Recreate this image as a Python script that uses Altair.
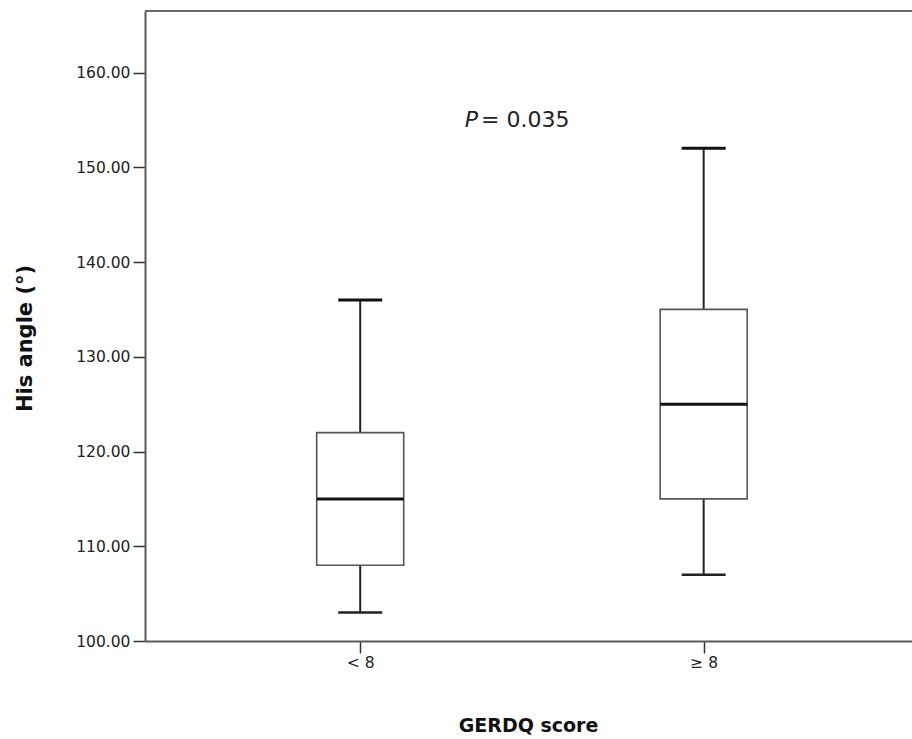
import altair as alt
import pandas as pd

# ---- data ----
groups = ["< 8", "≥ 8"]
positions = [0, 1]
whisker_low = [103, 107]
q1 = [108, 115]
median = [115, 125]
q3 = [122, 135]
whisker_high = [136, 152]
y_ticks = [100, 110, 120, 130, 140, 150, 160]
y_max = 166.5
p_label = "P"
p_value = "= 0.035"

df = pd.DataFrame({
    "group": groups,
    "pos": positions,
    "low": whisker_low,
    "q1": q1,
    "median": median,
    "q3": q3,
    "high": whisker_high,
})
ann = pd.DataFrame({"x1": [0.343], "x2": [0.352], "y": [154.3],
                    "t1": [p_label], "t2": [p_value]})
top = pd.DataFrame({"y": [y_max]})

FONT = "DejaVu Sans"
W, H = 767, 630

xscale = alt.Scale(domain=[-0.612, 1.592], nice=False, zero=False)
yscale = alt.Scale(domain=[100, y_max], nice=False, zero=False)

label_expr = f"datum.value == 0 ? '{groups[0]}' : '{groups[1]}'"

x_axis = alt.Axis(values=positions, labelExpr=label_expr, grid=False,
                  domainColor="#5a5a5a", domainWidth=2, tickColor="#333",
                  tickWidth=1.5, tickSize=12, labelPadding=2,
                  labelFont=FONT, labelFontSize=15.5, labelColor="#222",
                  titleFont=FONT, titleFontSize=19, titleFontWeight="bold",
                  titleColor="#111", titleX=383, titleY=90,
                  titleBaseline="alphabetic")
y_axis = alt.Axis(values=y_ticks, format=".2f", grid=False,
                  domainColor="#5a5a5a", domainWidth=2, tickColor="#333",
                  tickWidth=1.5, tickSize=12, labelPadding=3,
                  labelFont=FONT, labelFontSize=15.5, labelColor="#222",
                  titleFont=FONT, titleFontSize=21, titleFontWeight="bold",
                  titleColor="#111", titleX=-110, titleY=327,
                  titleBaseline="bottom")

base = alt.Chart(df).encode(
    x=alt.X("pos:Q", scale=xscale, axis=x_axis, title="GERDQ score")
)

whisker = base.mark_rule(color="#222", strokeWidth=2).encode(
    y=alt.Y("low:Q", scale=yscale, axis=y_axis, title="His angle (°)"),
    y2="high:Q",
)
box = base.mark_bar(size=87, fill="white", stroke="#555", strokeWidth=1.6,
                    opacity=1).encode(
    y="q1:Q", y2="q3:Q"
)
med = base.mark_tick(orient="horizontal", size=87, thickness=3, color="#111",
                     opacity=1).encode(
    y="median:Q"
)
cap_low = base.mark_tick(orient="horizontal", size=44, thickness=2.5, color="#222",
                         opacity=1).encode(
    y="low:Q"
)
cap_high = base.mark_tick(orient="horizontal", size=44, thickness=3, color="#111",
                          opacity=1).encode(
    y="high:Q"
)

top_line = alt.Chart(top).mark_rule(color="#6a6a6a", strokeWidth=2).encode(
    y="y:Q", x=alt.value(0), x2=alt.value(W)
)

t1 = alt.Chart(ann).mark_text(font=FONT, fontSize=22, fontStyle="italic",
                              align="right", baseline="alphabetic",
                              color="#222").encode(x="x1:Q", y="y:Q", text="t1:N")
t2 = alt.Chart(ann).mark_text(font=FONT, fontSize=22, align="left",
                              baseline="alphabetic",
                              color="#222").encode(x="x2:Q", y="y:Q", text="t2:N")

chart = alt.layer(top_line, whisker, box, med, cap_low, cap_high, t1, t2).properties(
    width=W, height=H,
    padding={"left": 145, "top": 11, "right": 0, "bottom": 98},
    autosize=alt.AutoSizeParams(type="none"),
    background="white",
).configure_view(stroke=None)

chart.save("out.html", embed_options={"renderer": "svg", "actions": False})
